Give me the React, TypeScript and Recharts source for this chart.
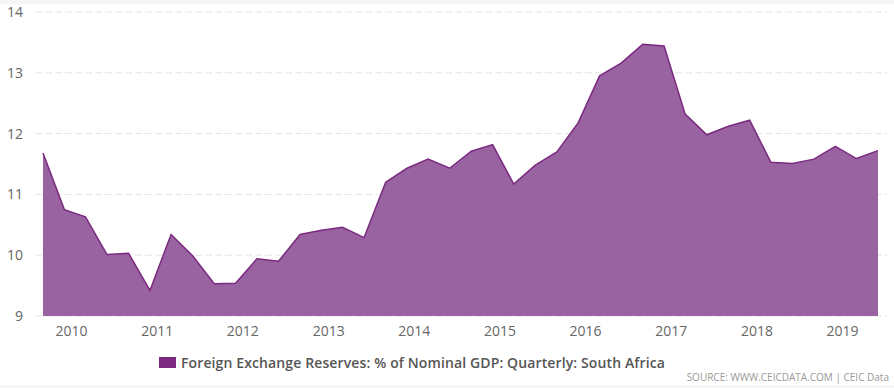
import React from "react";
import { AreaChart, Area, XAxis, YAxis, CartesianGrid } from "recharts";

const quarters: string[] = [
  "2009-09", "2009-12",
  "2010-03", "2010-06", "2010-09", "2010-12",
  "2011-03", "2011-06", "2011-09", "2011-12",
  "2012-03", "2012-06", "2012-09", "2012-12",
  "2013-03", "2013-06", "2013-09", "2013-12",
  "2014-03", "2014-06", "2014-09", "2014-12",
  "2015-03", "2015-06", "2015-09", "2015-12",
  "2016-03", "2016-06", "2016-09", "2016-12",
  "2017-03", "2017-06", "2017-09", "2017-12",
  "2018-03", "2018-06", "2018-09", "2018-12",
  "2019-03", "2019-06",
];

const reservesPctGdp: number[] = [
  11.68, 10.75, 10.63, 10.01, 10.03, 9.42, 10.34, 9.99, 9.53, 9.54,
  9.94, 9.9, 10.34, 10.41, 10.46, 10.29, 11.2, 11.43, 11.58, 11.43,
  11.71, 11.82, 11.17, 11.48, 11.7, 12.18, 12.95, 13.16, 13.47, 13.44,
  12.32, 11.98, 12.12, 12.22, 11.53, 11.51, 11.58, 11.79, 11.59, 11.72,
];

const yearTicks: number[] = [2010, 2011, 2012, 2013, 2014, 2015, 2016, 2017, 2018, 2019];
const yTicks: number[] = [9, 10, 11, 12, 13, 14];

const seriesName = "Foreign Exchange Reserves: % of Nominal GDP: Quarterly: South Africa";
const sourceText = "SOURCE: WWW.CEICDATA.COM | CEIC Data";

const toTime = (q: string) => {
  const [y, m] = q.split("-").map(Number);
  return Date.UTC(y, m - 1, 1);
};

const data = quarters.map((q, i) => ({ t: toTime(q), v: reservesPctGdp[i] }));
const xTicks = yearTicks.map((y) => Date.UTC(y, 0, 1));

const FONT = "'Open Sans', 'DejaVu Sans', sans-serif";
const LINE = "#7b2a80";
const FILL = "#9962a0";

export default function App() {
  return (
    <div
      style={{
        position: "absolute",
        left: 0,
        top: 0,
        width: 894,
        height: 388,
        background: "#f6f6f6",
        fontFamily: FONT,
      }}
    >
      <div
        style={{
          position: "absolute",
          left: 0,
          top: 4,
          width: 894,
          height: 381,
          background: "#ffffff",
        }}
      />
      <div style={{ position: "absolute", left: 0, top: 0 }}>
        <AreaChart
          width={894}
          height={388}
          data={data}
          margin={{ top: 12, right: 7, bottom: 42, left: 0 }}
        >
          <CartesianGrid
            vertical={false}
            stroke="#e3e3e3"
            strokeDasharray="7 3"
          />
          <XAxis
            dataKey="t"
            type="number"
            scale="time"
            domain={["dataMin", "dataMax"]}
            padding={{ left: 8, right: 9 }}
            ticks={xTicks}
            tickFormatter={(t: number) => String(new Date(t).getUTCFullYear())}
            axisLine={false}
            tickLine={false}
            tickSize={0}
            tickMargin={10}
            height={30}
            tick={{ fill: "#666666", fontSize: 14, fontFamily: FONT }}
            interval={0}
          />
          <YAxis
            type="number"
            domain={[9, 14]}
            ticks={yTicks}
            width={35}
            axisLine={false}
            tickLine={false}
            tickSize={0}
            tickMargin={12}
            tick={{ fill: "#666666", fontSize: 14, fontFamily: FONT }}
            interval={0}
          />
          <Area
            type="linear"
            dataKey="v"
            stroke={LINE}
            strokeWidth={1.5}
            fill={FILL}
            fillOpacity={1}
            isAnimationActive={false}
            dot={false}
            activeDot={false}
          />
        </AreaChart>
      </div>
      <div
        style={{
          position: "absolute",
          left: 159,
          top: 352,
          height: 20,
          display: "flex",
          alignItems: "center",
          whiteSpace: "nowrap",
        }}
      >
        <span
          style={{
            display: "inline-block",
            width: 17,
            height: 11,
            background: LINE,
            marginRight: 5,
          }}
        />
        <span style={{ fontSize: 14, fontWeight: 600, color: "#555555", letterSpacing: 0.12 }}>
          {seriesName}
        </span>
      </div>
      <div
        style={{
          position: "absolute",
          right: 5,
          top: 370,
          fontSize: 10,
          color: "#999999",
          whiteSpace: "nowrap",
        }}
      >
        {sourceText}
      </div>
    </div>
  );
}
